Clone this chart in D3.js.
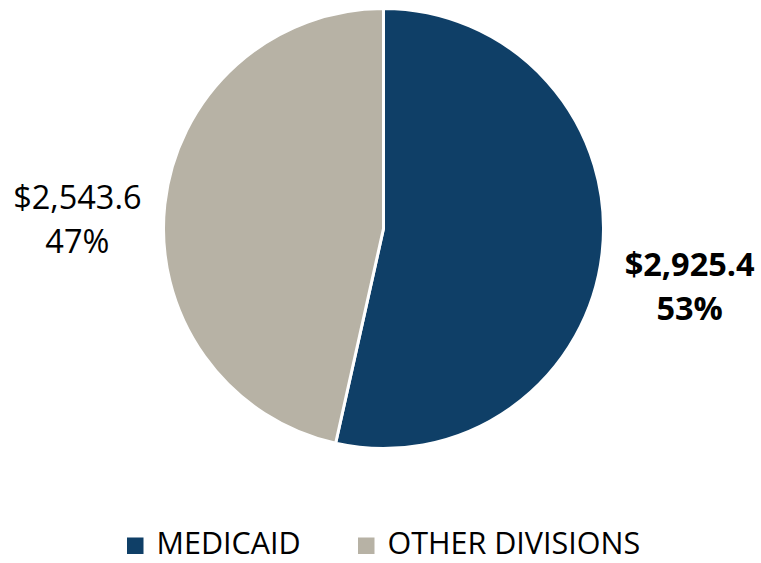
<!DOCTYPE html>
<html>
<head>
<meta charset="utf-8">
<script src="https://cdn.jsdelivr.net/npm/d3@7"></script>
<style>
  html, body { margin: 0; padding: 0; background: #fff; }
  svg { display: block; }
  text { font-family: "Open Sans", "Noto Sans", sans-serif; fill: #000; }
</style>
</head>
<body>
<svg id="chart" width="761" height="563"></svg>
<script>
// Budget split (millions of dollars)
const categories = ["MEDICAID", "OTHER DIVISIONS"];
const amounts = [2925.4, 2543.6];
const colors = ["#0f3f67", "#b7b2a5"];
const boldLabel = [true, false];

const width = 761, height = 563;
const cx = 383.5, cy = 228.5, radius = 220;

const svg = d3.select("#chart");
const total = d3.sum(amounts);
const data = categories.map((c, i) => ({ name: c, value: amounts[i], color: colors[i], bold: boldLabel[i] }));

const pie = d3.pie().value(d => d.value).sort(null);
const arc = d3.arc().innerRadius(0).outerRadius(radius);
const arcs = pie(data);

const g = svg.append("g").attr("transform", `translate(${cx},${cy})`);

g.selectAll("path.slice")
  .data(arcs)
  .enter().append("path")
  .attr("class", "slice")
  .attr("d", arc)
  .attr("fill", d => d.data.color)
  .attr("stroke", "#fff")
  .attr("stroke-width", 3)
  .attr("stroke-linejoin", "round");

// Value / percent labels placed outside each slice
const labelArc = d3.arc().innerRadius(308).outerRadius(308);
const fmt = d3.format(",.1f");

const labels = g.selectAll("g.label")
  .data(arcs)
  .enter().append("g")
  .attr("class", "label")
  .attr("transform", d => {
    const [x, y] = labelArc.centroid(d);
    return `translate(${x},${y})`;
  });

labels.each(function(d, i) {
  const sel = d3.select(this);
  const pct = Math.round(d.data.value / total * 100) + "%";
  const t = sel.append("text")
    .attr("text-anchor", "middle")
    .attr("font-size", 32.5)
    .attr("font-weight", d.data.bold ? 700 : 400);
  t.append("tspan").attr("x", 0).attr("y", 14).text("$" + fmt(d.data.value));
  t.append("tspan").attr("x", 0).attr("y", 58).text(pct);
});

// Legend along the bottom edge
const legendX = [127, 358];
const legend = svg.selectAll("g.legend")
  .data(data)
  .enter().append("g")
  .attr("class", "legend")
  .attr("transform", (d, i) => `translate(${legendX[i]},537.5)`);

legend.append("rect")
  .attr("width", 16.5).attr("height", 16.5)
  .attr("fill", d => d.color);

legend.append("text")
  .attr("x", 29.5).attr("y", 16.5)
  .attr("font-size", 30.5)
  .text(d => d.name);
</script>
</body>
</html>
